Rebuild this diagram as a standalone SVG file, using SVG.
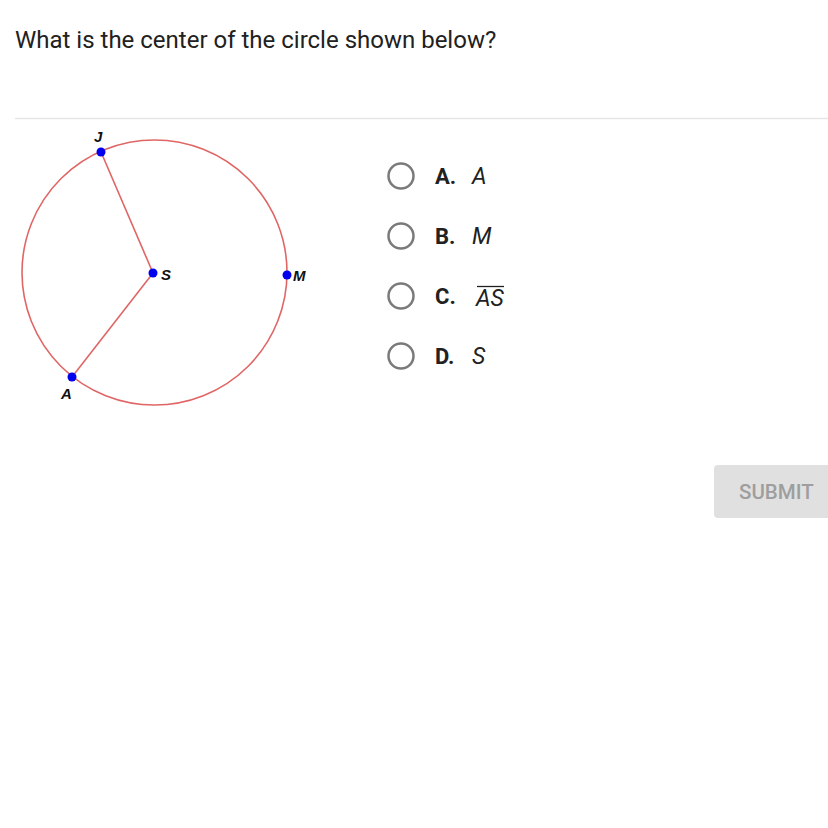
<svg xmlns="http://www.w3.org/2000/svg" width="828" height="828" viewBox="0 0 828 828">
<style>
.q{font-family:Roboto,"Liberation Sans",sans-serif;font-size:24px;fill:#212121}
.pt{fill:#0000ee}
.seg{stroke:#e06666;stroke-width:1.6;fill:none}
.lbl{font-family:"Liberation Sans",Arial,sans-serif;font-size:15px;font-weight:bold;font-style:italic;fill:#111}
.radio{fill:#fff;stroke:#7a7a7a;stroke-width:2.5}
.key{font-family:Roboto,"Liberation Sans",sans-serif;font-size:22px;font-weight:bold;fill:#212121}
.ans{font-family:Roboto,"Liberation Sans",sans-serif;font-size:23px;font-style:italic;fill:#212121}
</style>
<rect width="828" height="828" fill="#fff"/>
<text class="q" x="15" y="48">What is the center of the circle shown below?</text>
<line x1="15" y1="118.5" x2="828" y2="118.5" stroke="#e6e6e6" stroke-width="1.5"/>
<g id="circle">
<circle cx="154.5" cy="272.5" r="132.5" class="seg"/>
</g>
<g id="connectors">
<line x1="101" y1="152" x2="153" y2="273" class="seg"/>
<line x1="153" y1="273" x2="72" y2="377" class="seg"/>
</g>
<g id="J"><circle class="pt" cx="101" cy="152" r="4.5"/><text class="lbl" x="94" y="142">J</text></g>
<g id="S"><circle class="pt" cx="153" cy="273" r="4.5"/><text class="lbl" x="161" y="280">S</text></g>
<g id="M"><circle class="pt" cx="287" cy="275" r="4.5"/><text class="lbl" x="293" y="281">M</text></g>
<g id="A"><circle class="pt" cx="72" cy="377" r="4.5"/><text class="lbl" x="61" y="399">A</text></g>
<g id="optA"><circle class="radio" cx="401" cy="176" r="12.5"/><text class="key" x="435" y="184">A.</text><text class="ans" x="472" y="184">A</text></g>
<g id="optB"><circle class="radio" cx="401" cy="236" r="12.5"/><text class="key" x="435" y="244">B.</text><text class="ans" x="472" y="244">M</text></g>
<g id="optC"><circle class="radio" cx="401" cy="296" r="12.5"/><text class="key" x="435" y="304">C.</text><text class="ans" x="476" y="306" font-size="20">AS</text><line x1="477" y1="286.5" x2="504" y2="286.5" stroke="#212121" stroke-width="1.3"/></g>
<g id="optD"><circle class="radio" cx="401" cy="356" r="12.5"/><text class="key" x="435" y="364">D.</text><text class="ans" x="472" y="364">S</text></g>
<g id="submit"><rect x="714" y="465" width="130" height="53" rx="4" fill="#e0e0e0"/><text x="739" y="498.5" font-family="Roboto,'Liberation Sans',sans-serif" font-size="20.5" font-weight="500" fill="#9e9e9e">SUBMIT</text></g>
</svg>
